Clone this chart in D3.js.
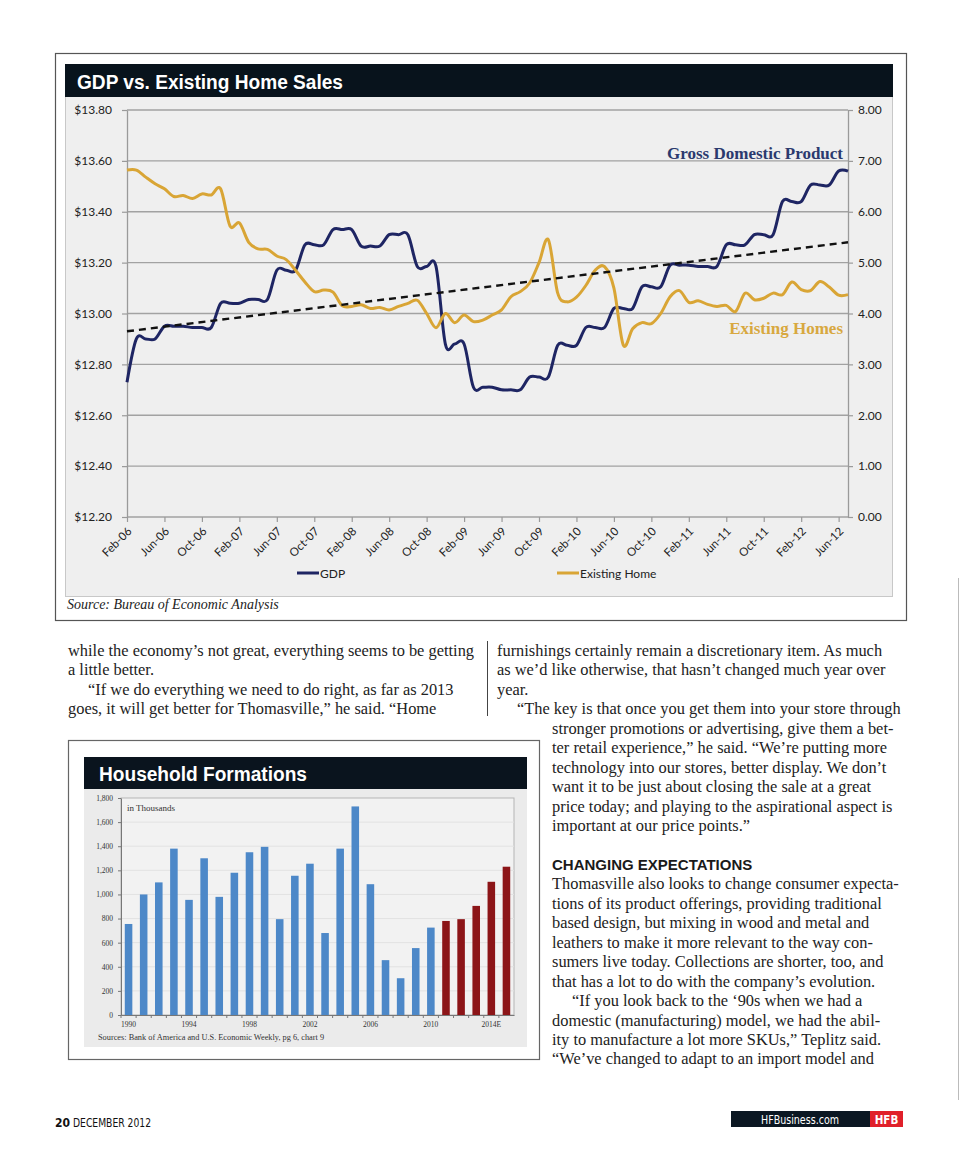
<!DOCTYPE html>
<html>
<head>
<meta charset="utf-8">
<script src="https://cdn.jsdelivr.net/npm/d3@7/dist/d3.min.js"></script>
<style>
     body { margin: 0; background: #fff; }
     svg { display: block; }
</style>
</head>
<body>
<svg id="page" width="960" height="1165"></svg>
<script>
/**
 * GDP vs. Existing Home Sales + Household Formations — magazine page
 */

// ── Data: GDP vs. Existing Home Sales (monthly, Feb-06 .. Jul-12) ──
const months = d3.timeMonth.range(new Date(2006, 1, 1), new Date(2012, 7, 1)).map(d3.timeFormat('%b-%y'));
const monthTicks = ['Feb-06', 'Jun-06', 'Oct-06', 'Feb-07', 'Jun-07', 'Oct-07', 'Feb-08', 'Jun-08', 'Oct-08', 'Feb-09',
     'Jun-09', 'Oct-09', 'Feb-10', 'Jun-10', 'Oct-10', 'Feb-11', 'Jun-11', 'Oct-11', 'Feb-12', 'Jun-12'];
// GDP, trillions (left axis)
const gdp = [12.73, 12.90, 12.90, 12.90, 12.95, 12.95, 12.95, 12.945, 12.945, 12.945,
     13.04, 13.04, 13.04, 13.055, 13.055, 13.055, 13.17, 13.17, 13.17, 13.27,
     13.27, 13.27, 13.33, 13.33, 13.33, 13.265, 13.265, 13.265, 13.31, 13.31,
     13.31, 13.185, 13.185, 13.185, 12.88, 12.88, 12.88, 12.71, 12.71, 12.71,
     12.70, 12.70, 12.70, 12.75, 12.75, 12.75, 12.875, 12.875, 12.875, 12.945,
     12.945, 12.945, 13.02, 13.02, 13.02, 13.105, 13.105, 13.105, 13.19, 13.19,
     13.19, 13.185, 13.185, 13.185, 13.27, 13.27, 13.27, 13.31, 13.31, 13.31,
     13.44, 13.44, 13.44, 13.505, 13.505, 13.505, 13.56, 13.56];
// Existing home sales, millions (right axis)
const existingHomes = [6.82, 6.82, 6.68, 6.55, 6.45, 6.30, 6.32, 6.26, 6.35, 6.33,
     6.45, 5.72, 5.78, 5.40, 5.27, 5.26, 5.13, 5.06, 4.85, 4.62,
     4.43, 4.46, 4.42, 4.15, 4.14, 4.17, 4.10, 4.12, 4.07, 4.14,
     4.20, 4.26, 4.00, 3.72, 4.00, 3.82, 3.97, 3.84, 3.87, 3.97,
     4.07, 4.33, 4.43, 4.60, 5.00, 5.45, 4.40, 4.23, 4.32, 4.55,
     4.85, 4.92, 4.50, 3.38, 3.70, 3.82, 3.80, 4.00, 4.33, 4.45,
     4.22, 4.25, 4.18, 4.14, 4.16, 4.04, 4.40, 4.27, 4.30, 4.40,
     4.37, 4.62, 4.47, 4.45, 4.63, 4.52, 4.36, 4.37];
const gdpTrend = [12.93, 13.28];  // dashed trend, first and last month
const leftTicks = [12.2, 12.4, 12.6, 12.8, 13.0, 13.2, 13.4, 13.6, 13.8];
const rightTicks = [0, 1, 2, 3, 4, 5, 6, 7, 8];

// ── Data: Household Formations (thousands) ──
const hfYears = [1990, 1991, 1992, 1993, 1994, 1995, 1996, 1997, 1998, 1999, 2000, 2001, 2002,
     2003, 2004, 2005, 2006, 2007, 2008, 2009, 2010, 2011, 2012, 2013, 2014, 2015];
const hfValues = [755, 1000, 1100, 1380, 955, 1300, 980, 1180, 1350, 1395, 795, 1155, 1255,
     680, 1380, 1730, 1085, 455, 305, 555, 725, 780, 795, 905, 1105, 1230];
const hfEstimateFrom = 2011;
const hfTickYears = [1990, 1994, 1998, 2002, 2006, 2010, 2014];
const hfTickLabels = ['1990', '1994', '1998', '2002', '2006', '2010', '2014E'];
const hfYTicks = [0, 200, 400, 600, 800, 1000, 1200, 1400, 1600, 1800];

// ── Article text (one entry per line slot, null = blank line) ──
const leftCol = [
     { x: 68, t: 'while the economy’s not great, everything seems to be getting' },
     { x: 68, t: 'a little better.' },
     { x: 88, t: '“If we do everything we need to do right, as far as 2013' },
     { x: 68, t: 'goes, it will get better for Thomasville,” he said. “Home' }
];
const rightCol = [
     { x: 497, t: 'furnishings certainly remain a discretionary item. As much' },
     { x: 497, t: 'as we’d like otherwise, that hasn’t changed much year over' },
     { x: 497, t: 'year.' },
     { x: 517, t: '“The key is that once you get them into your store through' },
     { x: 552, t: 'stronger promotions or advertising, give them a bet-' },
     { x: 552, t: 'ter retail experience,” he said. “We’re putting more' },
     { x: 552, t: 'technology into our stores, better display. We don’t' },
     { x: 552, t: 'want it to be just about closing the sale at a great' },
     { x: 552, t: 'price today; and playing to the aspirational aspect is' },
     { x: 552, t: 'important at our price points.”' },
     null,
     { x: 552, t: 'CHANGING EXPECTATIONS', head: true },
     { x: 552, t: 'Thomasville also looks to change consumer expecta-' },
     { x: 552, t: 'tions of its product offerings, providing traditional' },
     { x: 552, t: 'based design, but mixing in wood and metal and' },
     { x: 552, t: 'leathers to make it more relevant to the way con-' },
     { x: 552, t: 'sumers live today. Collections are shorter, too, and' },
     { x: 552, t: 'that has a lot to do with the company’s evolution.' },
     { x: 572, t: '“If you look back to the ‘90s when we had a' },
     { x: 552, t: 'domestic (manufacturing) model, we had the abil-' },
     { x: 552, t: 'ity to manufacture a lot more SKUs,” Teplitz said.' },
     { x: 552, t: '“We’ve changed to adapt to an import model and' }
];

const NAVY = '#1e2563', GOLD = '#d9a535';
const svg = d3.select('#page');
svg.append('rect').attr('width', 960).attr('height', 1165).attr('fill', '#fff');

// ── GDP vs. Existing Home Sales ───────────────────────
function drawGdpChart() {
     const M = { left: 127, right: 848, top: 110, bottom: 517 };
     const g = svg.append('g');

     g.append('rect').attr('x', 55.5).attr('y', 53.5).attr('width', 851).attr('height', 567)
          .attr('fill', '#fff').attr('stroke', '#555').attr('stroke-width', 1.2);
     g.append('rect').attr('x', 65.5).attr('y', 64.5).attr('width', 827).attr('height', 532)
          .attr('fill', '#efefef').attr('stroke', '#c8c8c8');
     g.append('rect').attr('x', 65).attr('y', 64).attr('width', 828).attr('height', 33).attr('fill', '#08131c');
     g.append('text').attr('x', 77).attr('y', 88.5)
          .attr('font-family', "'Liberation Sans',Arial,sans-serif").attr('font-weight', 'bold')
          .attr('font-size', 20).attr('fill', '#fff')
          .attr('textLength', 266).attr('lengthAdjust', 'spacingAndGlyphs')
          .text('GDP vs. Existing Home Sales');

     const x = d3.scalePoint().domain(months).range([M.left, M.right]);
     const yL = d3.scaleLinear().domain([12.2, 13.8]).range([M.bottom, M.top]);
     const yR = d3.scaleLinear().domain([0, 8]).range([M.bottom, M.top]);

     // gridlines
     g.selectAll('.grid').data(leftTicks).join('line')
          .attr('x1', M.left).attr('x2', M.right)
          .attr('y1', d => yL(d)).attr('y2', d => yL(d))
          .attr('stroke', '#a2a2a2').attr('stroke-width', 1.3);

     const font = "Lato,'Open Sans',sans-serif";
     const styleAxis = sel => {
          sel.select('.domain').attr('stroke', '#9a9a9a').attr('stroke-width', 1.3);
          sel.selectAll('.tick line').attr('stroke', '#9a9a9a').attr('stroke-width', 1.2);
          sel.selectAll('text').attr('font-family', font).attr('font-size', 12).attr('fill', '#222');
     };
     g.append('g').attr('transform', `translate(${M.left},0)`)
          .call(d3.axisLeft(yL).tickValues(leftTicks).tickSize(5).tickPadding(10).tickSizeOuter(0)
               .tickFormat(d => '$' + d.toFixed(2)))
          .call(styleAxis);
     g.append('g').attr('transform', `translate(${M.right},0)`)
          .call(d3.axisRight(yR).tickValues(rightTicks).tickSize(5).tickPadding(5).tickSizeOuter(0)
               .tickFormat(d => d.toFixed(2)))
          .call(styleAxis);
     const xa = g.append('g').attr('transform', `translate(0,${M.bottom})`)
          .call(d3.axisBottom(x).tickValues(monthTicks).tickSize(5).tickSizeOuter(0))
          .call(styleAxis);
     xa.select('.domain').remove();
     xa.selectAll('.tick text')
          .attr('y', 0).attr('dy', 0).attr('font-size', 11.5)
          .attr('text-anchor', 'end')
          .attr('transform', 'translate(5,15) rotate(-45)');

     const line = yScale => d3.line()
          .x((d, i) => x(months[i]))
          .y(d => yScale(d))
          .curve(d3.curveCatmullRom.alpha(0));

     g.append('path').datum(gdp).attr('d', line(yL))
          .attr('fill', 'none').attr('stroke', NAVY).attr('stroke-width', 3);
     g.append('path').datum(existingHomes).attr('d', line(yR))
          .attr('fill', 'none').attr('stroke', GOLD).attr('stroke-width', 3);
     g.append('line')
          .attr('x1', x(months[0])).attr('y1', yL(gdpTrend[0]))
          .attr('x2', x(months[months.length - 1])).attr('y2', yL(gdpTrend[1]))
          .attr('stroke', '#111').attr('stroke-width', 2.4).attr('stroke-dasharray', '7,5');

     // series labels
     const serif = "'Liberation Serif','Times New Roman',serif";
     g.append('text').attr('x', 843).attr('y', 159).attr('text-anchor', 'end')
          .attr('font-family', serif).attr('font-weight', 'bold').attr('font-size', 17)
          .attr('fill', '#2b3a6e').text('Gross Domestic Product');
     g.append('text').attr('x', 843).attr('y', 334).attr('text-anchor', 'end')
          .attr('font-family', serif).attr('font-weight', 'bold').attr('font-size', 17)
          .attr('fill', '#d8a83f').text('Existing Homes');

     // legend
     const legend = [{ name: 'GDP', color: NAVY, x: 297 }, { name: 'Existing Home', color: GOLD, x: 557 }];
     legend.forEach(l => {
          g.append('line').attr('x1', l.x).attr('x2', l.x + 22).attr('y1', 573).attr('y2', 573)
               .attr('stroke', l.color).attr('stroke-width', 3);
          g.append('text').attr('x', l.x + 23).attr('y', 577.5).attr('font-family', font)
               .attr('font-size', 12).attr('fill', '#222').text(l.name);
     });

     g.append('text').attr('x', 67).attr('y', 609)
          .attr('font-family', serif).attr('font-style', 'italic').attr('font-size', 14)
          .attr('fill', '#222').text('Source: Bureau of Economic Analysis');
}

// ── Household Formations bar chart ────────────────────
function drawHouseholdChart() {
     const M = { left: 121, right: 514, top: 798, bottom: 1015 };
     const g = svg.append('g');
     const serif = "'Liberation Serif','Times New Roman',serif";

     g.append('rect').attr('x', 68.5).attr('y', 740.5).attr('width', 471).attr('height', 319)
          .attr('fill', '#fff').attr('stroke', '#666').attr('stroke-width', 1.2);
     g.append('rect').attr('x', 84).attr('y', 789).attr('width', 443).attr('height', 258).attr('fill', '#ebebeb');
     g.append('rect').attr('x', 84).attr('y', 757).attr('width', 443).attr('height', 32).attr('fill', '#0a141e');
     g.append('text').attr('x', 99).attr('y', 781)
          .attr('font-family', "'Liberation Sans',Arial,sans-serif").attr('font-weight', 'bold')
          .attr('font-size', 20).attr('fill', '#fff')
          .attr('textLength', 208).attr('lengthAdjust', 'spacingAndGlyphs')
          .text('Household Formations');

     const x = d3.scaleBand().domain(hfYears).range([M.left, M.right]).paddingInner(0.5).paddingOuter(0.25);
     const y = d3.scaleLinear().domain([0, 1800]).range([M.bottom, M.top]);

     g.append('rect').attr('x', M.left).attr('y', M.top)
          .attr('width', M.right - M.left).attr('height', M.bottom - M.top)
          .attr('fill', '#f2f2f2').attr('stroke', '#b5b5b5');
     g.selectAll('.hf-grid').data(hfYTicks.slice(1, -1)).join('line')
          .attr('x1', M.left).attr('x2', M.right).attr('y1', d => y(d)).attr('y2', d => y(d))
          .attr('stroke', '#e2e2e2');

     g.selectAll('.hf-bar').data(hfValues).join('rect')
          .attr('x', (d, i) => x(hfYears[i])).attr('width', x.bandwidth())
          .attr('y', d => y(d)).attr('height', d => y(0) - y(d))
          .attr('fill', (d, i) => hfYears[i] >= hfEstimateFrom ? '#8c1518' : '#4d88c8');

     const ya = g.append('g').attr('transform', `translate(${M.left},0)`)
          .call(d3.axisLeft(y).tickValues(hfYTicks).tickSize(3).tickPadding(5).tickSizeOuter(0)
               .tickFormat(d3.format(',')));
     const xa = g.append('g').attr('transform', `translate(0,${M.bottom})`)
          .call(d3.axisBottom(x).tickValues(hfTickYears).tickSize(0).tickPadding(7)
               .tickFormat(d => hfTickLabels[hfTickYears.indexOf(d)]));
     [ya, xa].forEach(a => {
          a.select('.domain').attr('stroke', '#777');
          a.selectAll('.tick line').attr('stroke', '#777');
          a.selectAll('text').attr('font-family', serif).attr('font-size', 7.5).attr('fill', '#333');
     });
     // minor ticks between bars
     g.selectAll('.hf-minor').data(hfYears).join('line')
          .attr('x1', d => x(d) - x.step() * 0.25).attr('x2', d => x(d) - x.step() * 0.25)
          .attr('y1', M.bottom).attr('y2', M.bottom + 3).attr('stroke', '#777');

     g.append('text').attr('x', 127).attr('y', 811).attr('font-family', serif)
          .attr('font-size', 9).attr('fill', '#333').text('in Thousands');
     g.append('text').attr('x', 98).attr('y', 1040).attr('font-family', serif)
          .attr('font-size', 8.3).attr('fill', '#333')
          .text('Sources: Bank of America and U.S. Economic Weekly, pg 6, chart 9');
}

// ── Article text ──────────────────────────────────────
function drawText() {
     const serif = "'Liberation Serif','Times New Roman',serif";
     const lh = 19.45, top = 656;
     const g = svg.append('g').attr('font-family', serif).attr('font-size', 16.4).attr('fill', '#222');
     leftCol.forEach((l, i) => g.append('text').attr('x', l.x).attr('y', top + i * lh).text(l.t));
     rightCol.forEach((l, i) => {
          if (!l) return;
          const t = g.append('text').attr('x', l.x).attr('y', top + i * lh).text(l.t);
          if (l.head) t.attr('font-family', "'Liberation Sans',Arial,sans-serif")
               .attr('font-weight', 'bold').attr('font-size', 15).attr('fill', '#1a1a1a');
     });
     svg.append('line').attr('x1', 487.5).attr('x2', 487.5).attr('y1', 641).attr('y2', 716)
          .attr('stroke', '#444').attr('stroke-width', 1);
     svg.append('line').attr('x1', 958.5).attr('x2', 958.5).attr('y1', 578).attr('y2', 1100)
          .attr('stroke', '#bbb').attr('stroke-width', 1);
}

// ── Footer ────────────────────────────────────────────
function drawFooter() {
     const cond = "'DejaVu Sans Condensed','Liberation Sans Narrow',sans-serif";
     svg.append('text').attr('x', 55).attr('y', 1127).attr('font-family', cond)
          .attr('font-weight', 'bold').attr('font-size', 12).attr('fill', '#111').text('20');
     svg.append('text').attr('x', 73).attr('y', 1127).attr('font-family', cond)
          .attr('font-size', 12).attr('fill', '#111')
          .attr('textLength', 78).attr('lengthAdjust', 'spacingAndGlyphs').text('DECEMBER 2012');
     svg.append('rect').attr('x', 731).attr('y', 1111).attr('width', 139).attr('height', 16).attr('fill', '#0b1722');
     svg.append('rect').attr('x', 870).attr('y', 1111).attr('width', 33).attr('height', 16).attr('fill', '#e0202a');
     svg.append('text').attr('x', 761).attr('y', 1123.5).attr('font-family', cond)
          .attr('font-size', 12).attr('fill', '#fff')
          .attr('textLength', 78).attr('lengthAdjust', 'spacingAndGlyphs').text('HFBusiness.com');
     svg.append('text').attr('x', 886.5).attr('y', 1123.5).attr('text-anchor', 'middle').attr('font-family', cond)
          .attr('font-weight', 'bold').attr('font-size', 11.5).attr('fill', '#fff').text('HFB');
}

drawGdpChart();
drawHouseholdChart();
drawText();
drawFooter();
</script>
</body>
</html>
